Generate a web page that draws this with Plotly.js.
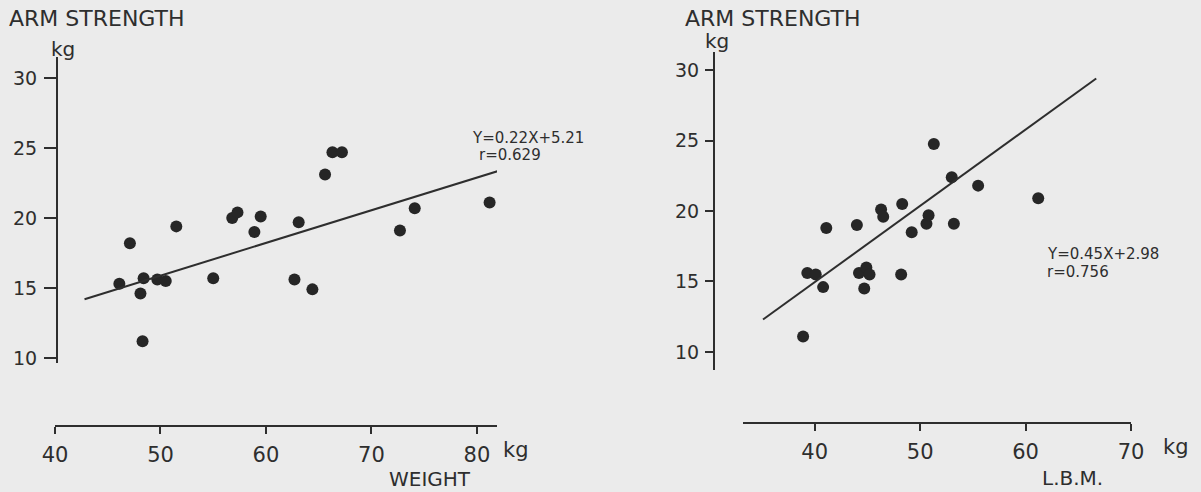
<!DOCTYPE html>
<html>
<head>
<meta charset="utf-8">
<script src="https://cdn.plot.ly/plotly-3.0.1.min.js"></script>
<style>
  html, body { margin: 0; padding: 0; background: #ebebeb; }
  #chart { width: 1201px; height: 492px; }
</style>
</head>
<body>
<div id="chart"></div>
<script>
// ---- Data ----
const weightX = [46.1, 47.1, 48.1, 48.3, 48.4, 49.7, 50.5, 51.5, 55.0, 56.8, 57.3, 58.9, 59.5, 62.7, 63.1, 64.4, 65.6, 66.3, 67.2, 72.7, 74.1, 81.2];
const weightY = [15.3, 18.2, 14.6, 11.2, 15.7, 15.6, 15.5, 19.4, 15.7, 20.0, 20.4, 19.0, 20.1, 15.6, 19.7, 14.9, 23.1, 24.7, 24.7, 19.1, 20.7, 21.1];

const lbmX = [38.9, 39.3, 40.1, 40.8, 41.1, 44.0, 44.2, 44.7, 44.9, 45.2, 46.3, 46.5, 48.2, 48.3, 49.2, 50.6, 50.8, 51.3, 53.0, 53.2, 55.5, 61.2];
const lbmY = [11.1, 15.6, 15.5, 14.6, 18.8, 19.0, 15.6, 14.5, 16.0, 15.5, 20.1, 19.6, 15.5, 20.5, 18.5, 19.1, 19.7, 24.75, 22.4, 19.1, 21.8, 20.9];

// regression lines as drawn in the figure
const fitWeightX = [42.8, 82.2];
const fitWeightY = [14.2, 23.4];
const fitLbmX = [35.1, 66.7];
const fitLbmY = [12.3, 29.4];

const yTicks = [10, 15, 20, 25, 30];
const xTicksWeight = [40, 50, 60, 70, 80];
const xTicksLbm = [40, 50, 60, 70];

const eqWeight = ["Y=0.22X+5.21", "r=0.629"];
const eqLbm = ["Y=0.45X+2.98", "r=0.756"];

// ---- Styling ----
const W = 1201, H = 492;
const ink = '#2e2e2e';
const FONT = 'DejaVu Sans, sans-serif';
const px = v => v / W;
const py = v => 1 - v / H;

const dotStyle = { size: 12, color: '#262626' };
const lineStyle = { color: ink, width: 2 };

const traces = [
  { x: weightX, y: weightY, xaxis: 'x', yaxis: 'y', mode: 'markers', type: 'scatter',
    marker: dotStyle, cliponaxis: false, hoverinfo: 'x+y' },
  { x: fitWeightX, y: fitWeightY, xaxis: 'x', yaxis: 'y', mode: 'lines', type: 'scatter',
    line: lineStyle, cliponaxis: false, hoverinfo: 'skip' },
  { x: lbmX, y: lbmY, xaxis: 'x2', yaxis: 'y2', mode: 'markers', type: 'scatter',
    marker: dotStyle, cliponaxis: false, hoverinfo: 'x+y' },
  { x: fitLbmX, y: fitLbmY, xaxis: 'x2', yaxis: 'y2', mode: 'lines', type: 'scatter',
    line: lineStyle, cliponaxis: false, hoverinfo: 'skip' }
];

const xAxisBase = {
  showgrid: false, zeroline: false, showline: true, linecolor: ink, linewidth: 2,
  ticks: 'outside', ticklen: 7, tickwidth: 2, tickcolor: ink, tickmode: 'array',
  tickfont: { family: FONT, size: 21, color: ink }, ticklabelstandoff: 3,
  anchor: 'free', fixedrange: true
};
const yAxisBase = {
  showgrid: false, zeroline: false, showline: true, linecolor: ink, linewidth: 2,
  ticks: 'outside', tickwidth: 2, tickcolor: ink, tickmode: 'array',
  tickfont: { family: FONT, size: 19, color: ink },
  anchor: 'free', fixedrange: true
};

const textAnn = (text, x, y, size, xanchor) => ({
  text: text, xref: 'paper', yref: 'paper', x: px(x), y: py(y),
  xanchor: xanchor || 'center', yanchor: 'middle', showarrow: false,
  font: { family: FONT, size: size, color: ink }
});

const layout = {
  width: W, height: H,
  margin: { l: 0, r: 0, t: 0, b: 0 },
  paper_bgcolor: '#ebebeb', plot_bgcolor: 'rgba(0,0,0,0)',
  showlegend: false,
  xaxis: Object.assign({}, xAxisBase, {
    domain: [px(55), px(497)], range: [40, 81.9], position: py(426),
    tickvals: xTicksWeight, ticktext: xTicksWeight.map(String)
  }),
  yaxis: Object.assign({}, yAxisBase, {
    domain: [py(363), py(57)], range: [9.64, 31.5], position: px(57),
    ticklen: 12, ticklabelstandoff: 3,
    tickvals: yTicks, ticktext: yTicks.map(String)
  }),
  xaxis2: Object.assign({}, xAxisBase, {
    domain: [px(743), px(1131)], range: [33.2, 70], position: py(423),
    tickvals: xTicksLbm, ticktext: xTicksLbm.map(String)
  }),
  yaxis2: Object.assign({}, yAxisBase, {
    domain: [py(370), py(52)], range: [8.72, 31.28], position: px(714),
    ticklen: 8, ticklabelstandoff: 2,
    tickvals: yTicks, ticktext: yTicks.map(String)
  }),
  annotations: [
    textAnn('ARM STRENGTH', 7, 19, 22, 'left'),
    textAnn('kg', 63, 49, 20),
    textAnn('kg', 516, 450, 21),
    textAnn('WEIGHT', 430, 479, 20),
    textAnn(eqWeight[0], 470, 138, 15, 'left'),
    textAnn(eqWeight[1], 477, 155, 15, 'left'),

    textAnn('ARM STRENGTH', 683, 19, 22, 'left'),
    textAnn('kg', 717, 41, 20),
    textAnn('kg', 1176, 447, 21),
    textAnn('L.B.M.', 1072, 478, 20),
    textAnn(eqLbm[0], 1045, 254, 15, 'left'),
    textAnn(eqLbm[1], 1045, 272, 15, 'left')
  ]
};

Plotly.newPlot('chart', traces, layout, { displayModeBar: false, staticPlot: true });
</script>
</body>
</html>
